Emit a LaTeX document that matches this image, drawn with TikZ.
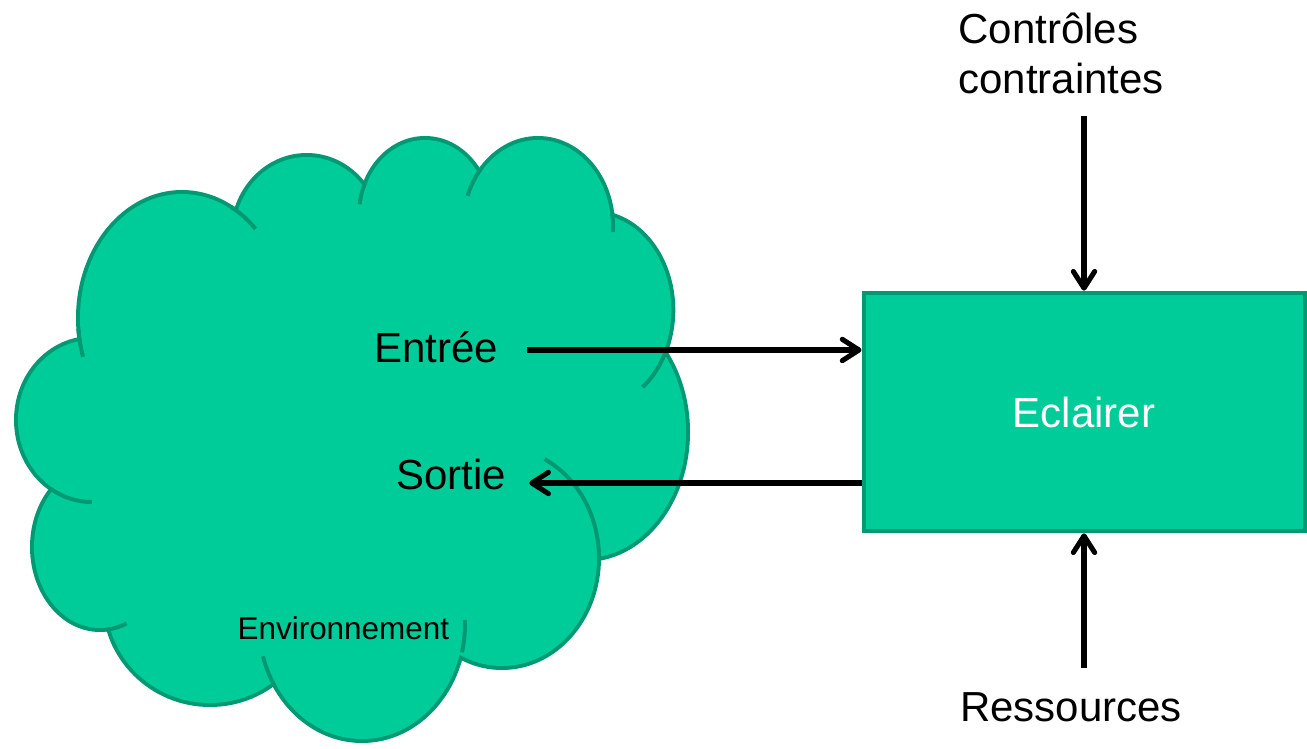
\documentclass[tikz,border=0pt]{standalone}
\usepackage{fontspec}
\setmainfont{Liberation Sans}
\usetikzlibrary{arrows.meta}
\definecolor{cloudfill}{HTML}{00CC99}
\definecolor{cloudline}{HTML}{009973}
\begin{document}
\begin{tikzpicture}[x=0.75pt,y=-0.75pt,
  big/.style={font=\fontsize{31.5}{37.5}\selectfont},
  small/.style={font=\fontsize{23.6}{28}\selectfont},
  lbl/.style={inner sep=0pt, anchor=base west},
  arr/.style={-{Straight Barb[length=12.5pt,width=16pt,round]}, line width=3.8pt},
  cloud edge/.style={fill=cloudfill, draw=cloudline, line width=6pt},
  cloud seam/.style={draw=cloudline, line width=3pt},
  process/.style={draw=cloudline, fill=cloudfill, line width=3pt, inner sep=0pt,
    minimum width=330.75pt, minimum height=179pt, text=white, big}]
\useasboundingbox (0,0) rectangle (1307,749);

% lobes of the cloud: centre x / centre y / x radius / y radius
\def\lobes{182/318/104/126, 306.7/235/74.4/80, 425/215/66/77, 538/226/75/88,
  593.3/310/80/98, 585/432/103/128, 502/558/97/110, 362/624/103/117,
  210/600/106/105, 100/547/68/83, 92/420/76/82}
% inner arcs where one lobe runs on past its neighbour
\def\seams{182/318/104/126/-62/-45, 182/318/104/126/162/175,
  425/215/66/77/188/206, 538/226/75/88/200/220, 538/226/75/88/-9/4,
  593.3/310/80/98/24/52, 502/558/97/110/-64/2, 362/624/103/117/-2/14,
  362/624/103/117/148/164, 100/547/68/83/67/85, 92/420/76/82/90/123}

% outline: thick stroke of every lobe, then cover the inner half
\foreach \cx/\cy/\rx/\ry in \lobes
  \filldraw[cloud edge] (\cx,\cy) ellipse [x radius=\rx-2, y radius=\ry-2];
\foreach \cx/\cy/\rx/\ry in \lobes
  \fill[cloudfill] (\cx,\cy) ellipse [x radius=\rx-2, y radius=\ry-2];
\fill[cloudfill] (182,318) -- (306.7,235) -- (425,215) -- (538,226) -- (593.3,310)
  -- (585,432) -- (502,558) -- (362,624) -- (210,600) -- (100,547) -- (92,420) -- cycle;
\foreach \cx/\cy/\rx/\ry/\ta/\tb in \seams
  \draw[cloud seam] plot[domain=\ta:\tb, samples=24, variable=\ang]
    ({\cx+\rx*cos(\ang)},{\cy+\ry*sin(\ang)});

% labels
\node[lbl, big] (entree) at (374,362.3) {Entrée};
\node[lbl, big] (sortie) at (396,489.3) {Sortie};
\node[lbl, small] (env) at (237.3,639.3) {Environnement};
\node[lbl, big, align=left] (ctrl) at (958.3,93.3) {Contrôles\\contraintes};
\node[lbl, big] (res) at (960,721) {Ressources};

% activity box
\node[process] (box) at (1084,412) {Eclairer};

% flows
\coordinate (inrow) at (0,350);
\coordinate (outrow) at (0,483);
\draw[arr, shorten <=21.75pt] (entree.east |- inrow) -- (box.west |- inrow);
\draw[arr, shorten >=17.25pt] (box.west |- outrow) -- (sortie.east |- outrow);
\draw[arr, shorten <=16.5pt] (box.north |- ctrl.south) -- (box.north);
\draw[arr, shorten <=18pt] (box.south |- res.north) -- (box.south);
\end{tikzpicture}
\end{document}
